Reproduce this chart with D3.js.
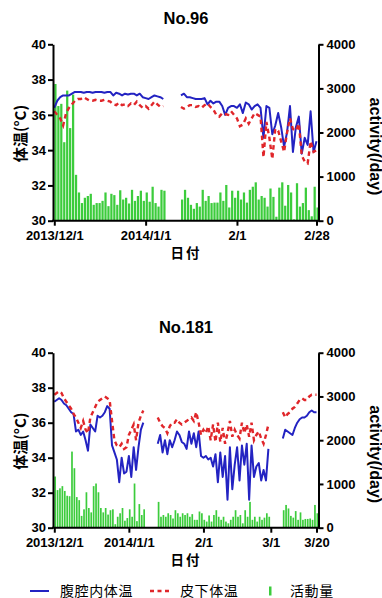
<!DOCTYPE html>
<html>
<head>
<meta charset="utf-8">
<script src="https://cdn.jsdelivr.net/npm/d3@7"></script>
<style>
  body { margin: 0; background: #fff; }
  svg { display: block; }
  .num { font-family: "Liberation Sans", Arial, sans-serif; font-weight: bold; }
  .jp { font-family: "Noto Sans CJK JP", sans-serif; }
</style>
</head>
<body>
<script>
// No.96 : 2013/12/1 - 2014/2/28, one value per day, null = no record
const no96Start = "2013-12-01";
const no96Abd = [
  36.4, 36.8, 37.0, 37.1, 37.1, 37.1, 37.2, 37.3, 37.3, 37.3,
  37.25, 37.3, 37.3, 37.25, 37.3, 37.3, 37.3, 37.25, 37.3, 37.3,
  37.1, 37.25, 37.2, 37.1, 37.2, 37.15, 37.2, 37.2, 37.1, 37.2,
  37.0, 36.95, 36.9, 37.0, 37.1, 37.05, 37.0, 36.9,
  null, null, null, null, null,
  37.1, 37.2, 37.0, 37.0, 36.95, 36.9, 36.9,
  36.9, 36.95, 36.6, 36.8, 36.65, 36.75, 36.75, 36.5, 36.0, 36.4,
  36.5, 36.5, 36.4, 36.6, 36.1, 36.7, 36.6, 36.3, 36.5, 36.6,
  36.4, 34.7, 36.5, 36.4, 34.9, 35.4, 36.1, 35.3, 34.2, 35.0,
  36.5, 33.9, 35.3, 35.9, 33.8, 34.7, 34.3, 36.2, 33.9, 34.5
];
const no96Sub = [
  36.2, 36.0, 35.8, 35.4, 36.1, 36.4, 36.6, 36.8, 36.9, 36.9,
  37.0, 36.9, 36.8, 36.8, 36.85, 36.8, 36.8, 36.85, 36.8, 36.75,
  36.6, 36.55, 36.7, 36.55, 36.6, 36.5, 36.65, 36.55, 36.75, 36.55,
  36.4, 36.5, 36.35, 36.55, 36.75, 36.6, 36.45, 36.5,
  null, null, null, null, null,
  36.45, 36.35, 36.45, 36.55, 36.55, 36.45, 36.5,
  36.4, 36.55, 36.65, 36.45, 36.3, 36.0, 35.9, 36.1, 36.05, 36.0,
  36.2, 36.0, 35.8, 35.35, 35.45, 35.8, 35.5, 35.8, 36.1, 36.0,
  35.9, 33.6, 35.6, 34.7, 33.5, 35.2, 35.1, 34.5, 33.9, 35.0,
  35.8, 35.2, 35.1, 35.5, 33.7, 33.35, 33.25, 34.5, 33.9, 34.0
];
const no96Act = [
  3100, 2600, 2650, 1780, 2950, 2100, 2860, 1040, 640, 400,
  520, 560, 610, 360, 400, 400, 450, 640, 330, 610,
  580, 360, 690, 480, 520, 390, 700, 450, 560, 680,
  450, 640, 430, 770, 400, 320, 700, 680,
  null, null, null, null, null,
  480, 700, 520, 360, 270, 400, 320,
  700, 450, 560, 400, 410, 410, 640, 450, 810, 300,
  680, 520, 680, 480, 640, 410, 700, 770, 870, 480,
  560, 520, 320, 730, 540, 90, 750, 870, 340, 810,
  640, 30, 850, 320, 400, 750, 240, 100, 770, 300
];
const no96TickDates = ["2013-12-01", "2014-01-01", "2014-02-01", "2014-02-28"];
const no96TickLabels = ["2013/12/1", "2014/1/1", "2/1", "2/28"];

// No.181 : 2013/12/1 - 2014/3/20
const no181Start = "2013-12-01";
const no181Abd = [
  37.2, 37.3, 37.4, 37.3, 37.1, 37.0, 36.8, 36.6, 36.5, 35.5,
  35.6, 35.3, 35.5, 35.0, 34.4, 35.9, 35.7, 35.5, 36.4, 36.3,
  36.4, 36.6, 36.95, 36.8, 34.7, 34.3, 33.9, 32.6, 34.0, 33.1,
  33.2, 34.1, 32.9, 34.6, 33.3, 34.6, 35.6, 36.0,
  null, null, null, null, null,
  34.8, 35.3, 34.3, 35.0, 34.2, 35.0, 34.6,
  35.0, 35.5, 35.3, 34.9, 34.8, 34.5, 35.5, 34.8, 35.4, 34.6,
  35.5, 34.1, 34.0, 34.1, 33.9, 34.0, 33.5, 34.2, 32.6, 34.3,
  32.9, 34.1, 31.6, 34.6, 32.2, 33.6, 34.6, 32.7, 34.7, 33.6,
  34.8, 31.6, 34.7, 32.9, 33.5, 33.7, 32.7, 33.3, 32.7, 34.5,
  null, null, null, null, null,
  35.1, 35.6, 35.5, 35.4, 35.3,
  35.7, 36.0, 36.2, 36.3, 36.3, 36.4, 36.6, 36.7, 36.6, 36.6
];
const no181Sub = [
  37.6, 37.7, 37.8, 37.7, 37.4, 37.2, 37.0, 36.8, 36.5, 36.3,
  36.0, 35.7, 36.1, 35.6, 35.4, 36.3, 36.6, 36.9, 37.2, 37.3,
  37.4, 37.5, 37.4, 37.3, 36.1, 35.0, 34.7, 34.6, 34.8, 34.5,
  34.6, 35.3, 35.6, 35.9, 35.0, 36.0, 36.4, 36.7,
  null, null, null, null, null,
  36.3, 36.0, 35.8, 35.7, 35.4, 35.8, 36.0,
  36.0, 36.2, 36.0, 35.9, 36.0, 36.1, 36.2, 36.3, 36.1, 36.6,
  36.0, 35.3, 35.6, 35.4, 35.8, 35.0, 35.9, 34.9, 36.0, 34.9,
  35.7, 34.8, 35.4, 36.1, 35.2, 35.6, 35.3, 35.1, 36.0, 35.4,
  35.9, 35.2, 36.0, 35.0, 35.3, 35.5, 35.1, 34.8, 35.3, 35.9,
  null, null, null, null, null,
  36.6, 36.3, 36.5, 36.6, 36.8,
  36.9, 37.1, 37.3, 37.4, 37.3, 37.3, 37.5, 37.6, 37.6, 37.6
];
const no181Act = [
  1170, 860, 900, 950, 840, 730, 720, 1740, 1360, 700,
  630, 270, 420, 810, 450, 350, 950, 1010, 810, 450,
  350, 450, 300, 400, 420, 80, 250, 330, 450, 160,
  220, 420, 250, 1010, 150, 540, 290, 420,
  null, null, null, null, null,
  590, 250, 290, 250, 330, 290, 210,
  400, 330, 250, 330, 290, 330, 250, 310, 180, 180,
  370, 330, 180, 140, 280, 140, 290, 400, 250, 180,
  250, 140, 100, 180, 250, 400, 250, 290, 100, 400,
  250, 590, 180, 250, 140, 250, 180, 230, 330, 250,
  null, null, null, null, null,
  400, 520, 440, 270, 230,
  380, 180, 350, 180, 200, 200, 210, 180, 520, 330
];
const no181TickDates = ["2013-12-01", "2014-01-01", "2014-02-01", "2014-03-01", "2014-03-20"];
const no181TickLabels = ["2013/12/1", "2014/1/1", "2/1", "3/1", "3/20"];

const tempTicks = [30, 32, 34, 36, 38, 40];
const actTicks = [0, 1000, 2000, 3000, 4000];
const legendNames = ["腹腔内体温", "皮下体温", "活動量"];

const BLUE = "#2323c2", RED = "#e0262a", GREEN = "#3ccc3c";
const W = 382, H = 598;
const parse = d3.utcParse("%Y-%m-%d");

const svg = d3.select("body").append("svg").attr("width", W).attr("height", H);

function panel(o) {
    const g = svg.append("g");
    const start = parse(o.start);
    const n = o.abd.length;
    const days = d3.range(n).map(i => d3.utcDay.offset(start, i));
    const last = parse(o.tickDates[o.tickDates.length - 1]);

    const x = d3.scaleUtc().domain([start, last]).range([54.3, 316.5]);
    const yT = d3.scaleLinear().domain([30, 40]).range([o.bottom, o.top]);
    const yA = d3.scaleLinear().domain([0, 4000]).range([o.bottom, o.top]);
    const dayW = x(d3.utcDay.offset(start, 1)) - x(start);

    // activity bars
    g.append("g").selectAll("rect")
        .data(o.act.map((v, i) => ({v, d: days[i]})).filter(e => e.v != null))
        .join("rect")
        .attr("x", e => x(e.d))
        .attr("y", e => yA(e.v))
        .attr("width", dayW - 0.7)
        .attr("height", e => yA(0) - yA(e.v))
        .attr("fill", GREEN);

    const line = d3.line()
        .defined(v => v != null)
        .x((v, i) => x(days[i]))
        .y(v => yT(v));

    g.append("path").attr("d", line(o.abd))
        .attr("fill", "none").attr("stroke", BLUE).attr("stroke-width", 2)
        .attr("stroke-linejoin", "round");
    g.append("path").attr("d", line(o.sub))
        .attr("fill", "none").attr("stroke", RED).attr("stroke-width", 2.4)
        .attr("stroke-dasharray", "4.5,3.5");

    // axes
    const left = g.append("g").attr("transform", "translate(53,0)")
        .call(d3.axisLeft(yT).tickValues(tempTicks).tickSize(5).tickSizeOuter(0).tickPadding(2));
    const right = g.append("g").attr("transform", "translate(318.5,0)")
        .call(d3.axisRight(yA).tickValues(actTicks).tickFormat(d3.format("d"))
            .tickSize(5).tickSizeOuter(0).tickPadding(3));
    const bottom = g.append("g").attr("transform", `translate(0,${o.bottom})`)
        .call(d3.axisBottom(x).tickValues(o.tickDates.map(parse))
            .tickFormat((d, i) => o.tickLabels[i]).tickSize(5).tickSizeOuter(0).tickPadding(3));
    bottom.select(".domain").remove();
    g.append("line").attr("x1", 52).attr("x2", 319.5)
        .attr("y1", o.bottom).attr("y2", o.bottom)
        .attr("stroke", "#000").attr("stroke-width", 2);

    [left, right, bottom].forEach(a => {
        a.selectAll("path, line").attr("stroke", "#000").attr("stroke-width", 2);
        a.selectAll("text").attr("class", "num").attr("font-size", 13).attr("fill", "#000");
    });
    bottom.selectAll("text").attr("dy", "0.9em");

    // titles and axis labels
    g.append("text").attr("class", "num")
        .attr("x", 186).attr("y", o.top - 20)
        .attr("text-anchor", "middle").attr("font-size", 16.5)
        .text(o.title);
    g.append("text").attr("class", "jp")
        .attr("x", 186).attr("y", o.bottom + 37.5)
        .attr("text-anchor", "middle").attr("font-size", 13.5)
        .attr("font-weight", "bold").attr("letter-spacing", 2)
        .text("日付");
    g.append("text").attr("class", "jp")
        .attr("transform", `translate(26,${(o.top + o.bottom) / 2 + 1}) rotate(-90)`)
        .attr("text-anchor", "middle").attr("font-size", 15).attr("font-weight", "bold")
        .text("体温(°C)");
    g.append("text").attr("class", "num")
        .attr("transform", `translate(369.5,${(o.top + o.bottom) / 2 + 14}) rotate(90)`)
        .attr("text-anchor", "middle").attr("font-size", 16)
        .text("activity(/day)");
}

panel({title: "No.96", top: 44.3, bottom: 220.7, start: no96Start,
    abd: no96Abd, sub: no96Sub, act: no96Act,
    tickDates: no96TickDates, tickLabels: no96TickLabels});
panel({title: "No.181", top: 352.7, bottom: 527.7, start: no181Start,
    abd: no181Abd, sub: no181Sub, act: no181Act,
    tickDates: no181TickDates, tickLabels: no181TickLabels});

// legend
const lg = svg.append("g").attr("transform", "translate(0,591)");
lg.append("line").attr("x1", 30).attr("x2", 49).attr("stroke", BLUE).attr("stroke-width", 2);
lg.append("line").attr("x1", 150).attr("x2", 171).attr("stroke", RED).attr("stroke-width", 2.4)
    .attr("stroke-dasharray", "4,3.5");
lg.append("rect").attr("x", 269).attr("y", -4.5).attr("width", 2.5).attr("height", 9).attr("fill", GREEN);
[[60, legendNames[0]], [180, legendNames[1]], [290, legendNames[2]]].forEach(([lx, t]) => {
    lg.append("text").attr("class", "jp").attr("x", lx).attr("y", 4.5)
        .attr("font-size", 14).attr("letter-spacing", 0.6).text(t);
});
</script>
</body>
</html>
